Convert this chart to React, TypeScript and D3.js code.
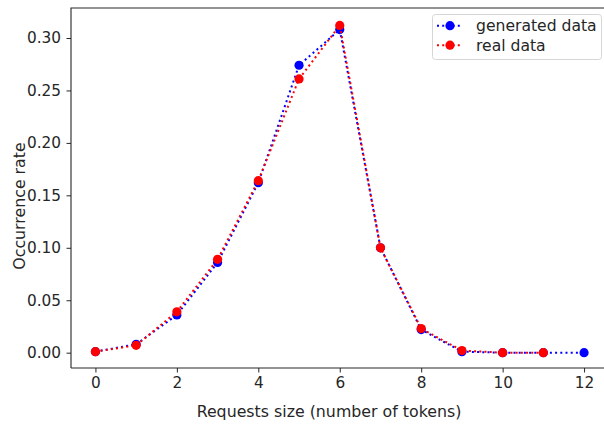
import * as d3 from "d3";
import { useRef, useEffect } from "react";

// request size (tokens) -> occurrence rate
const genX = [0, 1, 2, 3, 4, 5, 6, 7, 8, 9, 10, 11, 12];
const genY = [0.001, 0.008, 0.036, 0.086, 0.162, 0.274, 0.308, 0.1, 0.022, 0.001, 0.0, 0.0, 0.0];
const realX = [0, 1, 2, 3, 4, 5, 6, 7, 8, 9, 10, 11];
const realY = [0.001, 0.007, 0.039, 0.089, 0.164, 0.261, 0.312, 0.1, 0.023, 0.002, 0.0, 0.0];
const xTicks = [0, 2, 4, 6, 8, 10, 12];
const yTicks = [0, 0.05, 0.1, 0.15, 0.2, 0.25, 0.3];
const seriesNames = ["generated data", "real data"];
const seriesColors = ["#0000ff", "#ff0000"];

export default function App() {
  const ref = useRef<SVGSVGElement>(null);

  useEffect(() => {
    const svg = d3.select(ref.current);
    svg.selectAll("*").remove();

    const W = 604, H = 426;
    const left = 71, top = 8, bottom = 368;
    const font = "DejaVu Sans, sans-serif";
    const ink = "#262626";

    const x = d3.scaleLinear().domain([-0.6, 12.6]).range([left, 608.5]);
    const y = d3.scaleLinear().domain([-0.0146, 0.3286]).range([bottom, top]);

    svg.attr("width", W).attr("height", H);
    svg.append("rect").attr("width", W).attr("height", H).attr("fill", "#fff");

    // axes
    const xAxis = svg.append("g")
      .attr("transform", `translate(0,${bottom})`)
      .call(d3.axisBottom(x).tickValues(xTicks).tickSize(4.5).tickPadding(5).tickFormat(d3.format("d")));
    const yAxis = svg.append("g")
      .attr("transform", `translate(${left},0)`)
      .call(d3.axisLeft(y).tickValues(yTicks).tickSize(4.5).tickPadding(5.5).tickFormat(d3.format(".2f")));

    [xAxis, yAxis].forEach(g => {
      g.select(".domain").remove();
      g.selectAll(".tick line").attr("stroke", ink).attr("stroke-width", 1);
      g.selectAll(".tick text")
        .attr("fill", ink)
        .style("font-family", font)
        .style("font-size", "15.3px");
    });

    // spines (right one falls outside the picture)
    svg.append("path")
      .attr("d", `M${left},${bottom}V${top}H${W + 10}M${left},${bottom}H${W + 10}`)
      .attr("fill", "none")
      .attr("stroke", ink)
      .attr("stroke-width", 1.1);

    // series
    const series = [
      { xs: genX, ys: genY },
      { xs: realX, ys: realY },
    ];
    const line = d3.line<[number, number]>().x(d => x(d[0])).y(d => y(d[1]));

    series.forEach((s, i) => {
      const pts = s.xs.map((v, j) => [v, s.ys[j]] as [number, number]);
      svg.append("path")
        .datum(pts)
        .attr("fill", "none")
        .attr("stroke", seriesColors[i])
        .attr("stroke-width", 2)
        .attr("stroke-dasharray", "2 3.2")
        .attr("d", line);
      svg.append("g")
        .selectAll("circle")
        .data(pts)
        .join("circle")
        .attr("cx", d => x(d[0]))
        .attr("cy", d => y(d[1]))
        .attr("r", 4.6)
        .attr("fill", seriesColors[i]);
    });

    // legend
    const lg = svg.append("g");
    lg.append("rect")
      .attr("x", 432.5).attr("y", 14.5)
      .attr("width", 169).attr("height", 45)
      .attr("rx", 3)
      .attr("fill", "#fff")
      .attr("fill-opacity", 0.8)
      .attr("stroke", "#d6d6d6");
    seriesNames.forEach((name, i) => {
      const cy = 25.7 + i * 19.5;
      lg.append("line")
        .attr("x1", 437).attr("x2", 461)
        .attr("y1", cy).attr("y2", cy)
        .attr("stroke", seriesColors[i])
        .attr("stroke-width", 2)
        .attr("stroke-dasharray", "2 3.2");
      lg.append("circle").attr("cx", 450).attr("cy", cy).attr("r", 4.6).attr("fill", seriesColors[i]);
      lg.append("text")
        .attr("x", 476).attr("y", cy + 5.5)
        .attr("fill", ink)
        .style("font-family", font)
        .style("font-size", "15.6px")
        .text(name);
    });

    // axis labels
    svg.append("text")
      .attr("x", 329).attr("y", 417)
      .attr("text-anchor", "middle")
      .attr("fill", ink)
      .style("font-family", font)
      .style("font-size", "15.8px")
      .text("Requests size (number of tokens)");
    svg.append("text")
      .attr("transform", `translate(25,206) rotate(-90)`)
      .attr("text-anchor", "middle")
      .attr("fill", ink)
      .style("font-family", font)
      .style("font-size", "15.8px")
      .text("Occurrence rate");
  }, []);

  return <svg ref={ref} style={{ display: "block", position: "absolute", left: 0, top: 0 }} />;
}
